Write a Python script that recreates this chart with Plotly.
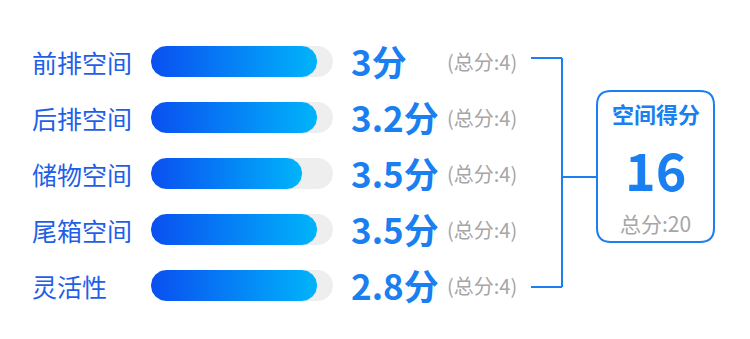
import numpy as np
import plotly.graph_objects as go

# ---- data ----
categories = ["前排空间", "后排空间", "储物空间", "尾箱空间", "灵活性"]
scores = [3, 3.2, 3.5, 3.5, 2.8]
score_labels = ["3分", "3.2分", "3.5分", "3.5分", "2.8分"]
max_scores = [4, 4, 4, 4, 4]
bar_fill = [3.65, 3.65, 3.32, 3.65, 3.65]   # visible fill length (score units) as drawn
total_title = "空间得分"
total_score = "16"
total_max = "总分:20"

# ---- layout constants (pixels) ----
W, H = 750, 339
PX_PER_UNIT = 45.5      # x pixels per score unit
X0_PX = 151             # pixel of score 0
ROW0_PX, ROW_STEP = 61.5, 56
BAR_HALF_PX = 15.5

FONT = "Noto Sans CJK SC"
BLUE = "#1a7ff0"
LABEL_BLUE = "#1f5fe8"
GRAY = "#a6a6a6"

def px2x(p):
    return (p - X0_PX) / PX_PER_UNIT

def px2y(p):
    return (p - ROW0_PX) / ROW_STEP

def stadium(x0, x1, yc):
    hy = BAR_HALF_PX / ROW_STEP
    rx = BAR_HALF_PX / PX_PER_UNIT
    t1 = np.linspace(-np.pi / 2, np.pi / 2, 40)
    t2 = np.linspace(np.pi / 2, 3 * np.pi / 2, 40)
    xs = np.concatenate([x1 - rx + rx * np.cos(t1), x0 + rx + rx * np.cos(t2)])
    ys = np.concatenate([yc + hy * np.sin(t1), yc + hy * np.sin(t2)])
    return np.append(xs, xs[0]), np.append(ys, ys[0])

fig = go.Figure()

for i, cat in enumerate(categories):
    # track
    xs, ys = stadium(0, max_scores[i], i)
    fig.add_trace(go.Scatter(x=xs, y=ys, fill="toself", fillcolor="#eeeeee",
                             mode="lines", line=dict(width=0), hoverinfo="skip",
                             showlegend=False))
    # gradient fill
    xs, ys = stadium(0, bar_fill[i], i)
    fig.add_trace(go.Scatter(x=xs, y=ys, fill="toself",
                             fillgradient=dict(type="horizontal",
                                               colorscale=[[0, "#0a4ff0"], [1, "#00b4fb"]]),
                             mode="lines", line=dict(width=0), hoverinfo="text",
                             text=f"{cat}: {scores[i]}", showlegend=False))
    # category label
    fig.add_annotation(x=px2x(30), y=i, text=cat, showarrow=False, xanchor="left",
                       yanchor="middle", font=dict(family=FONT, size=25, color=LABEL_BLUE))
    # score
    fig.add_annotation(x=px2x(349), y=i, text=f"<b>{score_labels[i]}</b>", showarrow=False,
                       xanchor="left", yanchor="middle", yshift=1,
                       font=dict(family=FONT, size=35, color=BLUE))
    # max
    fig.add_annotation(x=px2x(445), y=i, text=f"(总分:{max_scores[i]})", showarrow=False,
                       xanchor="left", yanchor="middle",
                       font=dict(family=FONT, size=20, color=GRAY))

# bracket
line = dict(color=BLUE, width=2)
def P(px, py):
    return px / W, 1 - py / H
bx0, bx1, bx2 = 531, 562, 597
yt, yb, ym = 58, 287, 177
for (a, b) in [((bx0, yt), (bx1, yt)), ((bx0, yb), (bx1, yb)), ((bx1, yt), (bx1, yb)), ((bx1, ym), (bx2, ym))]:
    x0, y0 = P(*a)
    x1, y1 = P(*b)
    fig.add_shape(type="line", xref="paper", yref="paper", x0=x0, y0=y0, x1=x1, y1=y1, line=line)

# rounded box
L, R, T, B, r = 597, 714, 91, 242, 14
pts = [("M", L + r, T), ("L", R - r, T), ("Q", R, T, R, T + r), ("L", R, B - r),
       ("Q", R, B, R - r, B), ("L", L + r, B), ("Q", L, B, L, B - r), ("L", L, T + r),
       ("Q", L, T, L + r, T)]
path = ""
for p in pts:
    cmd = p[0]
    coords = p[1:]
    seg = []
    for k in range(0, len(coords), 2):
        x, y = P(coords[k], coords[k + 1])
        seg.append(f"{x:.5f},{y:.5f}")
    path += cmd + " ".join(seg) + " "
path += "Z"
fig.add_shape(type="path", xref="paper", yref="paper", path=path,
              line=dict(color=BLUE, width=2), fillcolor="white")

cx = (L + R) / 2 / W
fig.add_annotation(xref="paper", yref="paper", x=cx, y=1 - 113 / H, text=f"<b>{total_title}</b>",
                   showarrow=False, xanchor="center", yanchor="middle",
                   font=dict(family=FONT, size=22, color=BLUE))
fig.add_annotation(xref="paper", yref="paper", x=cx, y=1 - 168 / H, text=f"<b>{total_score}</b>",
                   showarrow=False, xanchor="center", yanchor="middle",
                   font=dict(family=FONT, size=52, color=BLUE))
fig.add_annotation(xref="paper", yref="paper", x=cx, y=1 - 223 / H, text=total_max,
                   showarrow=False, xanchor="center", yanchor="middle",
                   font=dict(family=FONT, size=21, color=GRAY))

fig.update_layout(
    width=W, height=H, margin=dict(l=0, r=0, t=0, b=0),
    paper_bgcolor="white", plot_bgcolor="white",
    xaxis=dict(range=[px2x(0), px2x(W)], visible=False, fixedrange=True),
    yaxis=dict(range=[px2y(H), px2y(0)], visible=False, fixedrange=True),
    showlegend=False,
)
fig.write_html("out.html")
